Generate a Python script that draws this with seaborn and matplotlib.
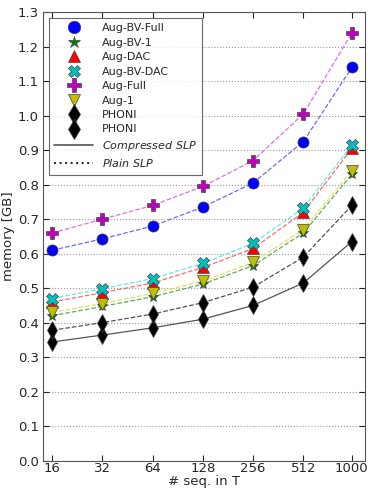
import numpy as np
import pandas as pd
import matplotlib
matplotlib.use("Agg")
import matplotlib.pyplot as plt
from matplotlib.lines import Line2D
import seaborn as sns

sns.set_style("ticks")
plt.rcParams['font.family'] = ['DejaVu Sans']

# data
seqs = [16, 32, 64, 128, 256, 512, 1000]
aug_bv_full = [0.61, 0.643, 0.68, 0.735, 0.805, 0.925, 1.14]
aug_full = [0.66, 0.70, 0.74, 0.795, 0.87, 1.005, 1.24]
aug_bv_dac = [0.47, 0.498, 0.528, 0.572, 0.63, 0.732, 0.915]
aug_dac = [0.46, 0.487, 0.515, 0.56, 0.615, 0.72, 0.905]
aug_1 = [0.43, 0.455, 0.485, 0.52, 0.575, 0.67, 0.84]
aug_bv_1 = [0.42, 0.447, 0.475, 0.512, 0.565, 0.66, 0.83]
phoni_plain = [0.378, 0.40, 0.425, 0.458, 0.503, 0.59, 0.74]
phoni_comp = [0.344, 0.364, 0.385, 0.41, 0.45, 0.515, 0.635]

# name, values, color, marker, line style, line color
series = [
    ("Aug-BV-Full", aug_bv_full, "blue", "o", "--", "#6a6aff"),
    ("Aug-BV-1", aug_bv_1, "green", "*", "--", "#5faa5f"),
    ("Aug-DAC", aug_dac, "red", "^", "--", "#ff6a6a"),
    ("Aug-BV-DAC", aug_bv_dac, "c", "X", "--", "#6ae8e8"),
    ("Aug-Full", aug_full, "m", "P", "--", "#e070e0"),
    ("Aug-1", aug_1, "y", "v", "--", "#e0e060"),
    ("PHONI", phoni_comp, "k", "d", "-", "#555555"),
    ("PHONI", phoni_plain, "k", "d", "--", "#555555"),
]
sizes = {"o": 8, "*": 8, "^": 8, "X": 8, "P": 9, "v": 8, "d": 9}

fig, ax = plt.subplots(figsize=(3.68, 4.90), dpi=100)

handles = []
for name, vals, col, mk, ls, lc in series:
    df = pd.DataFrame({"seq": seqs, "mem": vals})
    sns.lineplot(data=df, x="seq", y="mem", ax=ax, color=lc, linestyle=ls,
                 linewidth=0.9, zorder=2)
    ax.plot(seqs, vals, linestyle="none", marker=mk, markersize=sizes[mk],
            markerfacecolor=col, markeredgecolor="#444444",
            markeredgewidth=0.5, zorder=3)
    handles.append(Line2D([], [], linestyle="none", marker=mk,
                          markersize=sizes[mk] + 1, markerfacecolor=col,
                          markeredgecolor="#444444", markeredgewidth=0.5,
                          label=name))

handles.append(Line2D([], [], color="#555555", linestyle="-", linewidth=1.2,
                      label=r"$\mathit{Compressed\ SLP}$"))
handles.append(Line2D([], [], color="#333333", linestyle=":", linewidth=1.5,
                      label=r"$\mathit{Plain\ SLP}$"))

ax.set_xscale("log", base=2)
ax.set_xlim(14.1, 1200)
ax.set_xticks(seqs)
ax.set_xticklabels([str(s) for s in seqs])
ax.minorticks_off()
ax.set_ylim(0, 1.3)
ax.set_yticks(np.arange(0, 1.31, 0.1))
ax.set_yticklabels(["%.1f" % v for v in np.arange(0, 1.31, 0.1)])
ax.yaxis.grid(True, linestyle=":", color="#999999", linewidth=0.8)
ax.tick_params(axis="both", direction="in", top=True, right=True,
               labelsize=9.5, length=4, pad=3)
ax.tick_params(axis="x", pad=1)
ax.set_xlabel("# seq. in T", fontsize=9.5, labelpad=0)
ax.set_ylabel("memory [GB]", fontsize=9.5, labelpad=2)
for s in ax.spines.values():
    s.set_color("#555555")

leg = ax.legend(handles=handles, loc="upper left", fontsize=8, numpoints=1,
                frameon=True, fancybox=False, handlelength=3.5,
                borderpad=0.5, labelspacing=0.4)
leg.get_frame().set_edgecolor("#444444")
leg.get_frame().set_linewidth(0.8)

plt.subplots_adjust(left=0.117, right=0.992, top=0.975, bottom=0.06)
fig.savefig("out.png", dpi=100)
